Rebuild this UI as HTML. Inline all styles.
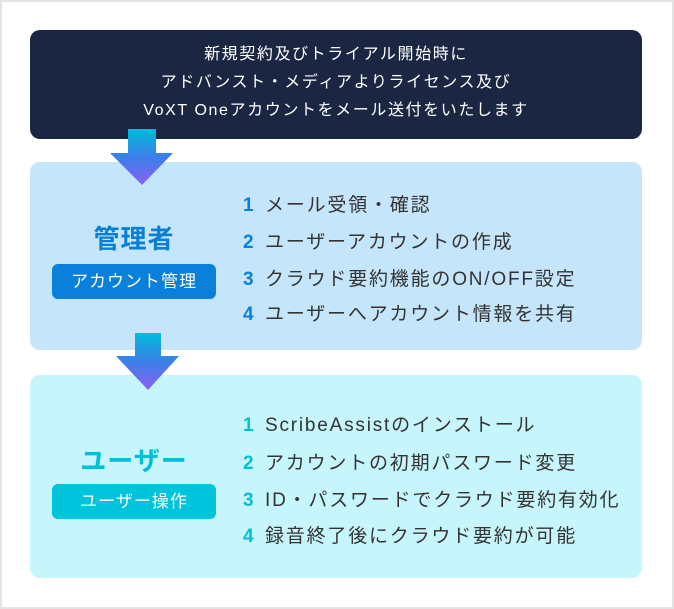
<!DOCTYPE html>
<html><head><meta charset="utf-8"><style>
*{margin:0;padding:0;box-sizing:border-box}
body{width:674px;height:609px;background:#fff;position:relative;overflow:hidden;font-family:"Liberation Sans","Noto Sans CJK JP",sans-serif}
.frame{position:absolute;left:0;top:0;width:674px;height:609px;border:2px solid #e4e4e4}
.box{position:absolute;left:30px;width:612px;border-radius:10px}
.dark{top:30px;height:109px;background:#1b2742;color:#fff;font-size:16px;text-align:center;line-height:28px;padding-top:11px;letter-spacing:1.6px}
.blue{top:162px;height:188px;background:#c5e5fb}
.cyan{top:375px;height:203px;background:#c6f6fc}
.title{position:absolute;width:164px;left:22px;text-align:center;font-weight:bold;font-size:26px;letter-spacing:1px}
.badge{position:absolute;left:22px;width:164px;height:35px;border-radius:6px;color:#fff;font-size:17px;text-align:center;line-height:35px;letter-spacing:1px}
.item{position:absolute;left:213px;font-size:19px;color:#333;letter-spacing:1.8px;white-space:nowrap}
.item b{display:inline-block;width:22px;font-weight:bold}
.b b{color:#0a80db}.c b{color:#00c0d8}
</style></head><body>
<div class="frame"></div>
<div class="box dark">新規契約及びトライアル開始時に<br>アドバンスト・メディアよりライセンス及び<br>VoXT Oneアカウントをメール送付をいたします</div>
<div class="box blue">
<div class="title" style="top:57px;color:#0a7fd6">管理者</div>
<div class="badge" style="top:102px;background:#0a80db">アカウント管理</div>
<div class="item b" style="top:28px"><b>1</b>メール受領・確認</div>
<div class="item b" style="top:65px"><b>2</b>ユーザーアカウントの作成</div>
<div class="item b" style="top:102px"><b>3</b>クラウド要約機能のON/OFF設定</div>
<div class="item b" style="top:137px"><b>4</b>ユーザーへアカウント情報を共有</div>
</div>
<div class="box cyan">
<div class="title" style="top:66px;color:#00bfd8">ユーザー</div>
<div class="badge" style="top:109px;background:#00c3dc">ユーザー操作</div>
<div class="item c" style="top:35px"><b>1</b>ScribeAssistのインストール</div>
<div class="item c" style="top:73px"><b>2</b>アカウントの初期パスワード変更</div>
<div class="item c" style="top:110px"><b>3</b>ID・パスワードでクラウド要約有効化</div>
<div class="item c" style="top:146px"><b>4</b>録音終了後にクラウド要約が可能</div>
</div>
<svg width="674" height="609" style="position:absolute;left:0;top:0">
<defs><linearGradient id="g" x1="0" y1="0" x2="0" y2="1"><stop offset="0" stop-color="#00bcdc"/><stop offset="0.5" stop-color="#3b7fe8"/><stop offset="1" stop-color="#8a63f2"/></linearGradient></defs>
<polygon points="128,129 156,129 156,153 173,153 142,185 110,153 128,153" fill="url(#g)"/>
<polygon points="135,333 161,333 161,356 179,356 148,390 116,356 135,356" fill="url(#g)"/>
</svg>
</body></html>
